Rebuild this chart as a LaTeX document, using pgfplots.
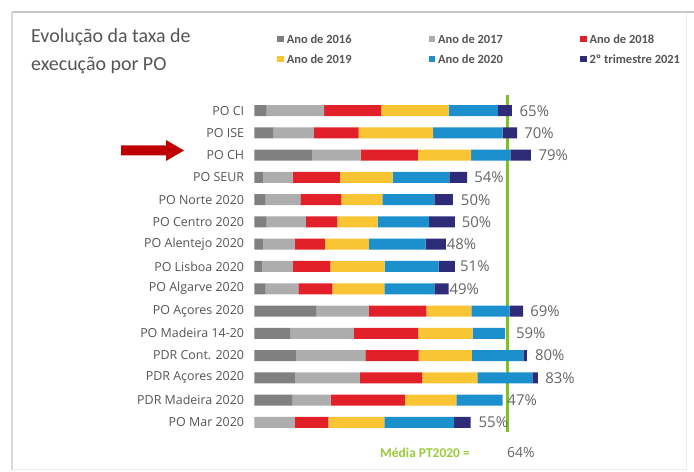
\documentclass[border=0pt]{standalone}
\usepackage{fontspec}
\setmainfont{Open Sans}
\newfontfamily\carlito{Carlito}
\usepackage{pgfplots}
\pgfplotsset{compat=1.18}
\definecolor{c16}{HTML}{808080}
\definecolor{c17}{HTML}{ADADAD}
\definecolor{c18}{HTML}{E2202A}
\definecolor{c19}{HTML}{F9C535}
\definecolor{c20}{HTML}{1C8FCD}
\definecolor{c21}{HTML}{2E2B78}
\definecolor{cg}{HTML}{7DC21E}
\definecolor{cgt}{HTML}{9BCB3C}
\definecolor{txt}{HTML}{555555}
\definecolor{pct}{HTML}{666666}
\definecolor{arr}{HTML}{C00000}
\tikzset{pctlab/.style={anchor=west, inner sep=0pt, text=pct, font=\fontsize{15}{15}\selectfont}}
\begin{document}
\begin{tikzpicture}[x=1bp,y=1bp]
\useasboundingbox (0,0) rectangle (694,472);
\fill[white] (0,0) rectangle (694,472);
% frame
\draw[black!7, line width=1bp] (12,2) rectangle (686,459);
\draw[black!22, line width=2.2bp] (12,460) -- (694,460);
\draw[black!15, line width=1.5bp] (12,460) -- (12,2);
% title
\node[anchor=north west, align=left, inner sep=0pt, text=txt,
      font=\carlito\fontsize{20}{24}\selectfont] at (31,444) {Evolução da taxa de\\[5bp]execução por PO};
% arrow
\fill[arr] (121,316.5) -- (166,316.5) -- (166,311) -- (184,321.5) -- (166,332) -- (166,326.5) -- (121,326.5) -- cycle;
\begin{axis}[
  at={(254.3bp,38.57bp)}, anchor=south west,
  scale only axis, width=394bp, height=333.86bp,
  xmin=0, xmax=100, ymin=-0.5, ymax=14.5, y dir=reverse,
  xbar stacked, bar width=11bp,
  axis line style={draw=none}, tick style={draw=none},
  xtick=\empty,
  ytick={0,...,14},
  yticklabels={PO CI, PO ISE, PO CH, PO SEUR, PO Norte 2020, PO Centro 2020,
    PO Alentejo 2020, PO Lisboa 2020, PO Algarve 2020, PO Açores 2020,
    PO Madeira 14-20, PDR Cont. 2020, PDR Açores 2020, PDR Madeira 2020, PO Mar 2020},
  yticklabel style={inner sep=0pt, xshift=-10bp, text=txt, font=\fontsize{12.5}{14}\selectfont},
  clip=false,
  legend columns=3,
  legend image code/.code={\fill[#1] (0bp,-3.3bp) rectangle (6.6bp,3.3bp);},
  legend style={at={(axis description cs:0.0576,1.195)}, anchor=north west,
    draw=none, fill=none, inner sep=0pt, row sep=11bp,
    font=\carlito\bfseries\fontsize{12.5}{13}\selectfont, text=txt,
    nodes={inner sep=0pt, text height=9bp, text depth=0pt},
    /tikz/every odd column/.append style={column sep=3bp},
    /tikz/every even column/.append style={column sep=77bp}},
  legend cell align=left,
]
\addplot[fill=c16, draw=none] coordinates {(3.1,0) (4.8,1) (14.6,2) (2.3,3) (2.9,4) (3.1,5) (2.3,6) (1.9,7) (2.9,8) (15.8,9) (9.1,10) (10.7,11) (10.3,12) (9.7,13) (0,14)};
\addlegendentry{Ano de 2016}
\addplot[fill=c17, draw=none] coordinates {(14.6,0) (10.3,1) (12.4,2) (7.4,3) (8.8,4) (10.0,5) (8.0,6) (7.9,7) (8.3,8) (13.3,9) (16.2,10) (17.5,11) (16.5,12) (9.7,13) (10.3,14)};
\addlegendentry{Ano de 2017}
\addplot[fill=c18, draw=none] coordinates {(14.5,0) (11.4,1) (14.5,2) (12.0,3) (10.4,4) (8.0,5) (7.6,6) (9.5,7) (8.6,8) (14.6,9) (16.3,10) (13.5,11) (15.8,12) (18.8,13) (8.5,14)};
\addlegendentry{Ano de 2018}
\addplot[fill=c19, draw=none] coordinates {(17.1,0) (18.9,1) (13.5,2) (13.4,3) (10.4,4) (10.2,5) (11.2,6) (13.8,7) (13.2,8) (11.4,9) (13.8,10) (13.5,11) (14.0,12) (13.1,13) (14.2,14)};
\addlegendentry{Ano de 2019}
\addplot[fill=c20, draw=none] coordinates {(12.5,0) (17.6,1) (10.0,2) (14.4,3) (13.2,4) (13.1,5) (14.4,6) (13.7,7) (12.7,8) (9.7,9) (8.2,10) (13.1,11) (14.0,12) (11.7,13) (17.7,14)};
\addlegendentry{Ano de 2020}
\addplot[fill=c21, draw=none] coordinates {(3.6,0) (3.7,1) (5.2,2) (4.5,3) (4.7,4) (6.5,5) (5.1,6) (4.1,7) (3.6,8) (3.4,9) (0,10) (0.9,11) (1.4,12) (0,13) (4.2,14)};
\addlegendentry{2º trimestre 2021}
\node[pctlab] at (axis cs:67.3,0) {65\%};
\node[pctlab] at (axis cs:68.5,1) {70\%};
\node[pctlab] at (axis cs:72.1,2) {79\%};
\node[pctlab] at (axis cs:55.8,3) {54\%};
\node[pctlab] at (axis cs:52.4,4) {50\%};
\node[pctlab] at (axis cs:52.6,5) {50\%};
\node[pctlab] at (axis cs:48.8,6) {48\%};
\node[pctlab] at (axis cs:52.2,7) {51\%};
\node[pctlab] at (axis cs:49.5,8) {49\%};
\node[pctlab] at (axis cs:70.0,9) {69\%};
\node[pctlab] at (axis cs:66.4,10) {59\%};
\node[pctlab] at (axis cs:71.2,11) {80\%};
\node[pctlab] at (axis cs:73.8,12) {83\%};
\node[pctlab] at (axis cs:64.2,13) {47\%};
\node[pctlab] at (axis cs:56.9,14) {55\%};
\draw[cg, line width=2.7bp] (axis cs:64.2,-0.71) -- (axis cs:64.2,14.44);
\end{axis}
% media label
\node[anchor=west, inner sep=0pt, text=cgt, font=\carlito\bfseries\fontsize{13.5}{14}\selectfont] at (380,19) {Média PT2020 =};
\node[anchor=west, inner sep=0pt, text=pct, font=\fontsize{14}{14}\selectfont] at (507,19) {64\%};
\end{tikzpicture}
\end{document}
